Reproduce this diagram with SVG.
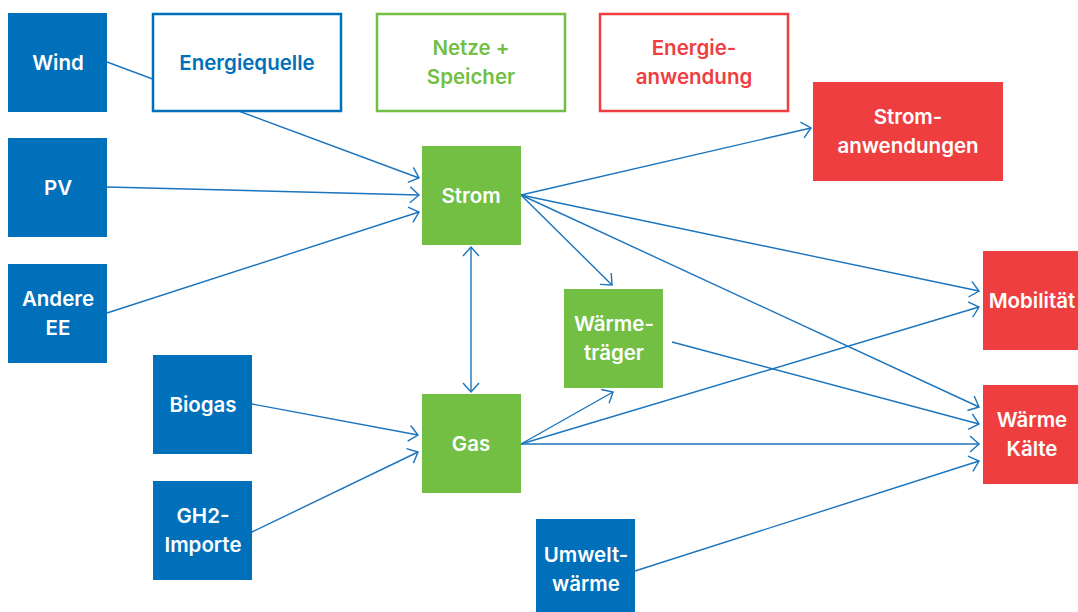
<svg xmlns="http://www.w3.org/2000/svg" width="1078" height="612" viewBox="0 0 1078 612">
<defs>
<style>
.blue{fill:#0070BA}
.green{fill:#72BF44}
.red{fill:#EE3E3F}
.t{font-family:Inter,"Liberation Sans",Arial,sans-serif;font-weight:600;font-size:20.5px;text-anchor:middle;fill:#fff}
.lg{fill:#fff;stroke-width:2.5}
.c{stroke:#1A74BE;stroke-width:1.4;fill:none}
</style>
<marker id="ah" markerUnits="userSpaceOnUse" markerWidth="24" markerHeight="24" viewBox="-12 -12 24 24" refX="0" refY="0" orient="auto-start-reverse">
<path d="M-9,-8 L0,0 L-9,8" fill="none" stroke="#1A74BE" stroke-width="1.4"/>
</marker>
</defs>
<rect width="1078" height="612" fill="#fff"/>
<g id="connectors" class="c">
<line x1="107" y1="62" x2="419" y2="178" marker-end="url(#ah)"/>
<line x1="107" y1="187" x2="419" y2="195" marker-end="url(#ah)"/>
<line x1="107" y1="313" x2="419" y2="212" marker-end="url(#ah)"/>
<line x1="521" y1="195" x2="811" y2="128" marker-end="url(#ah)"/>
<line x1="521" y1="195" x2="979" y2="291" marker-end="url(#ah)"/>
<line x1="521" y1="195" x2="979" y2="407" marker-end="url(#ah)"/>
<line x1="521" y1="195" x2="612" y2="285" marker-end="url(#ah)"/>
<line x1="471" y1="247" x2="471" y2="392" marker-start="url(#ah)" marker-end="url(#ah)"/>
<line x1="252" y1="404" x2="418" y2="435" marker-end="url(#ah)"/>
<line x1="252" y1="532" x2="418" y2="452" marker-end="url(#ah)"/>
<line x1="521" y1="444" x2="613" y2="392" marker-end="url(#ah)"/>
<line x1="521" y1="444" x2="979" y2="307" marker-end="url(#ah)"/>
<line x1="521" y1="444" x2="979" y2="444" marker-end="url(#ah)"/>
<line x1="672" y1="342" x2="979" y2="424" marker-end="url(#ah)"/>
<line x1="635" y1="571" x2="979" y2="461" marker-end="url(#ah)"/>
</g>
<g id="legend-energiequelle"><rect x="153" y="14" width="188" height="97" class="lg" stroke="#0070BA"/><text x="247" y="70" class="t" style="fill:#0070BA">Energiequelle</text></g>
<g id="legend-netze"><rect x="377" y="14" width="188" height="97" class="lg" stroke="#72BF44"/><text x="471" y="55" class="t" style="fill:#72BF44">Netze +</text><text x="471" y="84" class="t" style="fill:#72BF44">Speicher</text></g>
<g id="legend-anwendung"><rect x="600" y="14" width="188" height="97" class="lg" stroke="#EE3E3F"/><text x="694" y="55" class="t" style="fill:#EE3E3F">Energie-</text><text x="694" y="84" class="t" style="fill:#EE3E3F">anwendung</text></g>
<g id="wind"><rect x="8" y="13" width="99" height="99" class="blue"/><text x="58" y="70" class="t">Wind</text></g>
<g id="pv"><rect x="8" y="138" width="99" height="99" class="blue"/><text x="58" y="195" class="t">PV</text></g>
<g id="andere-ee"><rect x="8" y="264" width="99" height="99" class="blue"/><text x="58" y="306" class="t">Andere</text><text x="58" y="335" class="t">EE</text></g>
<g id="biogas"><rect x="153" y="355" width="99" height="99" class="blue"/><text x="203" y="412" class="t">Biogas</text></g>
<g id="gh2"><rect x="153" y="481" width="99" height="99" class="blue"/><text x="203" y="523" class="t">GH2-</text><text x="203" y="552" class="t">Importe</text></g>
<g id="umweltwaerme"><rect x="536" y="519" width="99" height="99" class="blue"/><text x="586" y="562" class="t">Umwelt-</text><text x="586" y="591" class="t">wärme</text></g>
<g id="strom"><rect x="422" y="146" width="99" height="99" class="green"/><text x="471" y="203" class="t">Strom</text></g>
<g id="gas"><rect x="422" y="394" width="99" height="99" class="green"/><text x="471" y="451" class="t">Gas</text></g>
<g id="waermetraeger"><rect x="564" y="289" width="99" height="99" class="green"/><text x="614" y="331" class="t">Wärme-</text><text x="614" y="360" class="t">träger</text></g>
<g id="stromanwendungen"><rect x="813" y="82" width="190" height="99" class="red"/><text x="908" y="124" class="t">Strom-</text><text x="908" y="153" class="t">anwendungen</text></g>
<g id="mobilitaet"><rect x="983" y="251" width="99" height="99" class="red"/><text x="1032" y="308" class="t">Mobilität</text></g>
<g id="waerme-kaelte"><rect x="983" y="385" width="99" height="99" class="red"/><text x="1032" y="427" class="t">Wärme</text><text x="1032" y="456" class="t">Kälte</text></g>
</svg>
